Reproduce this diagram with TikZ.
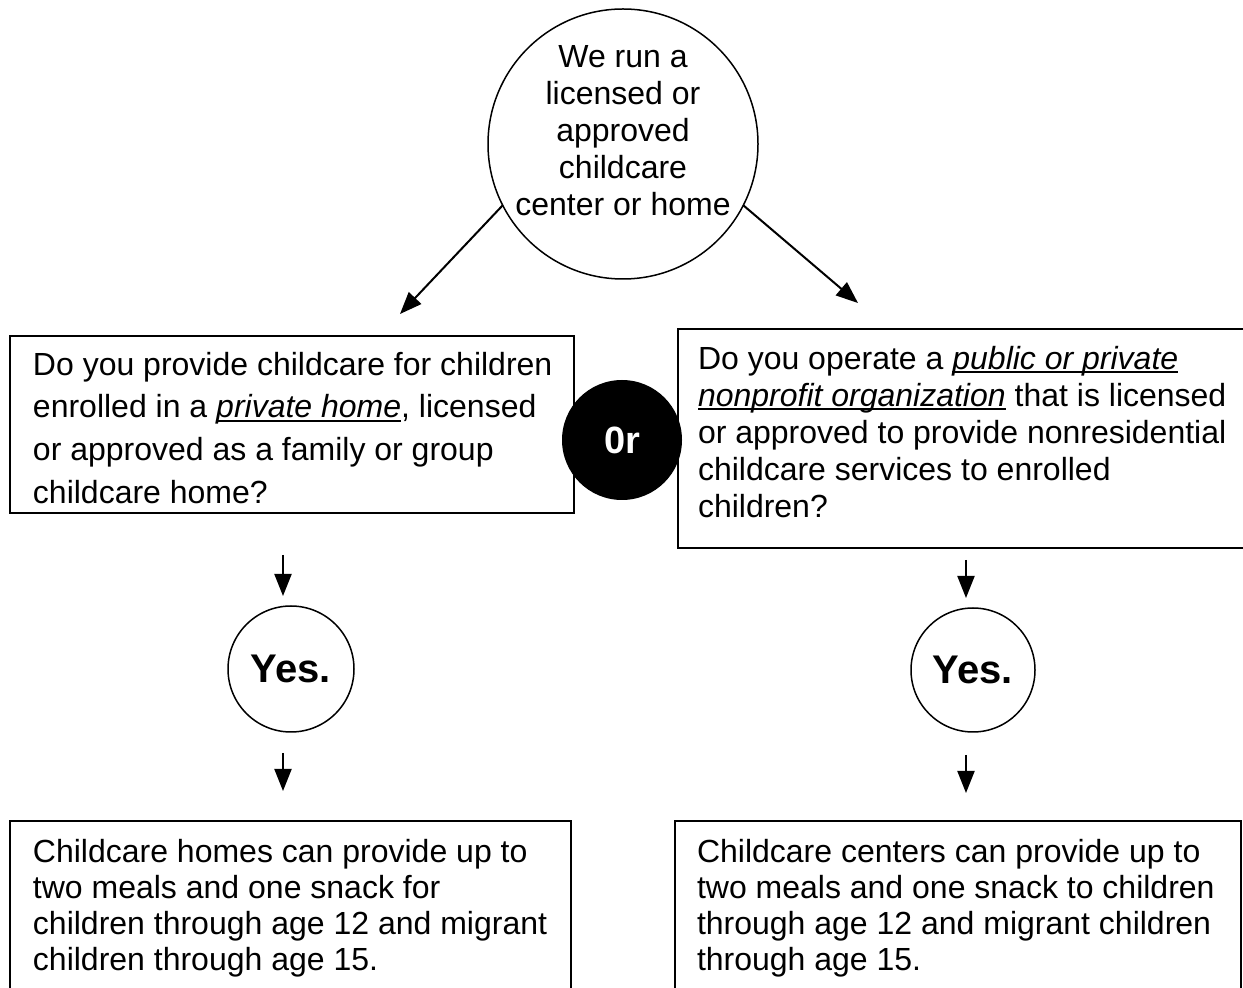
\documentclass[tikz,border=0pt]{standalone}
\usepackage{fontspec}
\setmainfont{Liberation Sans}
\usetikzlibrary{arrows.meta}

% box contents: width, height, left indent, top gap, baselineskip, text
\newcommand{\boxtext}[6]{%
  \parbox[c][#2][t]{#1}{\fontsize{16pt}{#5}\selectfont\raggedright
    \leftskip=#3\relax\rightskip=-60pt plus 1fil\relax
    \vspace*{#4}\noindent\strut #6}}
% italic, underlined phrase
\newsavebox{\emubox}
\newcommand{\emu}[1]{\leavevmode\sbox{\emubox}{\textit{#1}}%
  \rlap{\rule[-2.2pt]{\wd\emubox}{1pt}}\usebox{\emubox}}

\begin{document}
\begin{tikzpicture}[x=0.5pt, y=-0.5pt,
  qbox/.style={draw, line width=1pt, inner sep=0pt, outer sep=0pt, anchor=north west},
  ring/.style={circle, draw, line width=0.75pt, inner sep=0pt, outer sep=0pt},
  yes/.style={ring, font=\fontsize{20pt}{24pt}\selectfont\bfseries},
  orbadge/.style={circle, fill=black, inner sep=0pt, outer sep=0pt,
    text=white, font=\fontsize{19pt}{22pt}\selectfont\bfseries},
  arr/.style={line width=1pt, -{Triangle[length=11pt,width=8.5pt]}}]

\path[use as bounding box] (0,0) rectangle (1243,988);
\clip (0,0) rectangle (1243,988);

% starting question
\node[ring, minimum size=135pt] (top) at (623,144) {};
\node[align=center, font=\fontsize{16pt}{18.5pt}\selectfont] (toptext) at (623,131)
  {We run a\\licensed or\\approved\\childcare\\center or home};

% the two alternatives
\node[qbox] (lq) at (10,336) {\boxtext{282pt}{88.5pt}{11.5pt}{4.6pt}{21.4pt}{%
  Do you provide childcare for children\\
  enrolled in a \emu{private home}, licensed\\
  or approved as a family or group\\
  childcare home?}};
\node[qbox] (rq) at (678,329) {\boxtext{311pt}{109.5pt}{10pt}{7.1pt}{18.5pt}{%
  Do you operate a \emu{public or private}\\
  \emu{nonprofit organization} that is licensed\\
  or approved to provide nonresidential\\
  childcare services to enrolled\\
  children?}};

% answers
\node[yes, minimum size=63pt] (lyes) at (291,669) {Yes.};
\node[yes, minimum size=62pt] (ryes) at (973,670) {Yes.};

% outcomes
\node[qbox] (lout) at (10,821) {\boxtext{280.5pt}{90pt}{11.5pt}{7.9pt}{18pt}{%
  Childcare homes can provide up to\\
  two meals and one snack for\\
  children through age 12 and migrant\\
  children through age 15.}};
\node[qbox] (rout) at (675,821) {\boxtext{283pt}{90pt}{11pt}{7.9pt}{18pt}{%
  Childcare centers can provide up to\\
  two meals and one snack to children\\
  through age 12 and migrant children\\
  through age 15.}};

% badge between the alternatives
\node[orbadge, minimum size=60pt] (or) at (622,440) {0r};

% connectors
\coordinate (la) at (400,314);
\coordinate (ra) at (858,303);
\draw[arr] (top.207.6) -- (la);
\draw[arr] (top.333.8) -- (ra);

\coordinate (l1s) at (283,555); \coordinate (l1e) at (283,596);
\coordinate (l2s) at (283,753); \coordinate (l2e) at (283,791);
\coordinate (r1s) at (966,560); \coordinate (r1e) at (966,598);
\coordinate (r2s) at (966,755); \coordinate (r2e) at (966,793);
\draw[arr] (l1s) -- (l1e);
\draw[arr] (l2s) -- (l2e);
\draw[arr] (r1s) -- (r1e);
\draw[arr] (r2s) -- (r2e);
\end{tikzpicture}
\end{document}
